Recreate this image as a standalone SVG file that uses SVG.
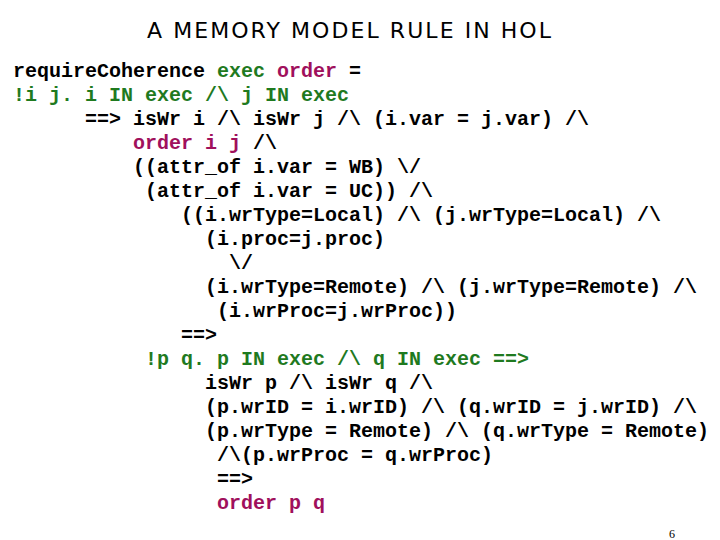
<svg xmlns="http://www.w3.org/2000/svg" width="720" height="540" viewBox="0 0 720 540">
<style>
.c{font-family:"Liberation Mono","Courier New",monospace;font-size:20px;font-weight:bold;fill:#000;white-space:pre}
.g{fill:#1f7a1f}.m{fill:#a0105c}
.t{font-family:"DejaVu Sans","Liberation Sans",sans-serif;font-size:22px;fill:#000}
</style>
<rect width="720" height="540" fill="#fff"/>
<text class="t" x="147" y="38" textLength="404" lengthAdjust="spacing">A MEMORY MODEL RULE IN HOL</text>
<g id="code">
<text class="c" x="13" y="77">requireCoherence <tspan class="g">exec</tspan> <tspan class="m">order</tspan> =</text>
<text class="c g" x="13" y="101">!i j. i IN exec /\ j IN exec</text>
<text class="c" x="85" y="125">==> isWr i /\ isWr j /\ (i.var = j.var) /\</text>
<text class="c" x="133" y="149"><tspan class="m">order i j</tspan> /\</text>
<text class="c" x="133" y="173">((attr_of i.var = WB) \/</text>
<text class="c" x="145" y="197">(attr_of i.var = UC)) /\</text>
<text class="c" x="181" y="221">((i.wrType=Local) /\ (j.wrType=Local) /\</text>
<text class="c" x="205" y="245">(i.proc=j.proc)</text>
<text class="c" x="229" y="269">\/</text>
<text class="c" x="205" y="293">(i.wrType=Remote) /\ (j.wrType=Remote) /\</text>
<text class="c" x="217" y="317">(i.wrProc=j.wrProc))</text>
<text class="c" x="181" y="341">==&gt;</text>
<text class="c g" x="145" y="365">!p q. p IN exec /\ q IN exec ==&gt;</text>
<text class="c" x="205" y="389">isWr p /\ isWr q /\</text>
<text class="c" x="205" y="413">(p.wrID = i.wrID) /\ (q.wrID = j.wrID) /\</text>
<text class="c" x="205" y="437">(p.wrType = Remote) /\ (q.wrType = Remote)</text>
<text class="c" x="217" y="461">/\(p.wrProc = q.wrProc)</text>
<text class="c" x="217" y="485">==&gt;</text>
<text class="c m" x="217" y="509">order p q</text>
</g>
<text x="672" y="538" font-family="Liberation Serif,serif" font-size="12" text-anchor="middle">6</text>
</svg>
